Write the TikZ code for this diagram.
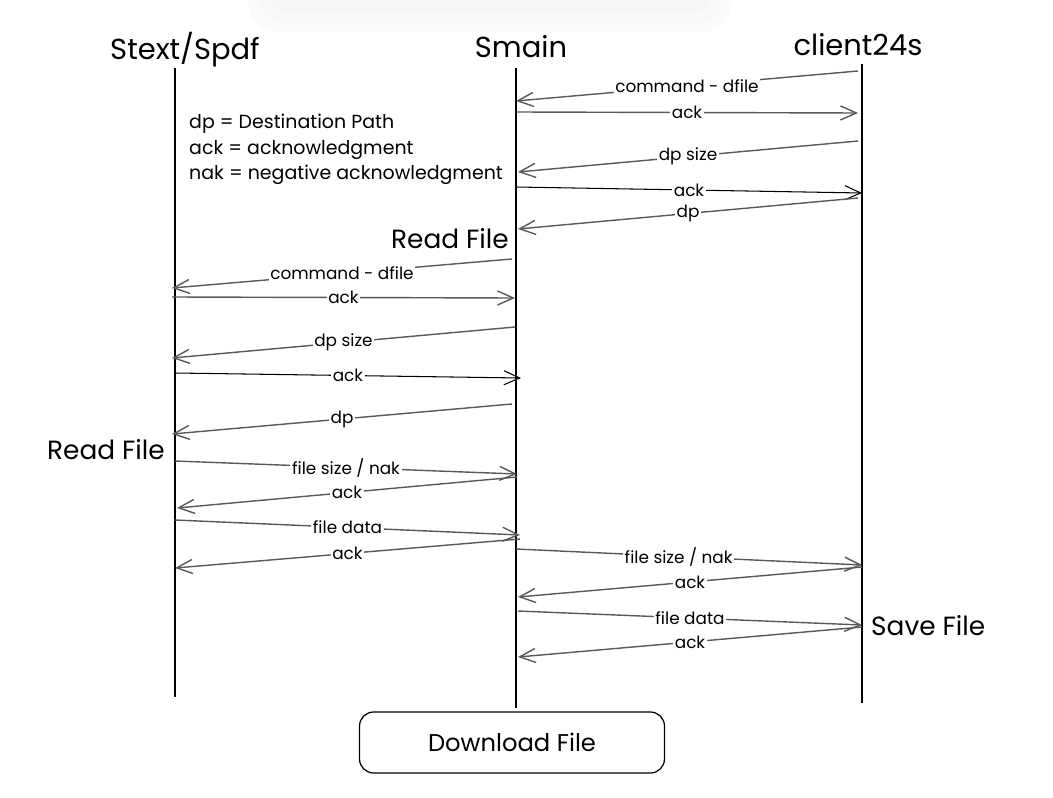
\documentclass[tikz,border=0pt]{standalone}
\usepackage{fontspec}
\setmainfont{Poppins}
\usetikzlibrary{arrows.meta}

\tikzset{
  life/.style={line width=1pt},
  msg/.style={draw=black!65, line width=0.8pt, -{Straight Barb[length=9pt,width=8pt]}},
  msgk/.style={msg, draw=black, line width=0.6pt},
  lbl/.style={fill=white, inner sep=1pt, text=black, font=\fontsize{9.6}{11}\selectfont},
  actor/.style={font=\fontsize{16.5}{18}\selectfont},
  note/.style={align=left, font=\fontsize{10.8}{14.5}\selectfont},
  event/.style={font=\fontsize{15}{16}\selectfont},
}

\begin{document}
\begin{tikzpicture}[x=0.02cm,y=-0.02cm]
\useasboundingbox (0,0) rectangle (1053,797);
%faint shadow at the top
\fill[black!1.5,rounded corners=16] (248,-20) rectangle (732,32);
\fill[black!2.5,rounded corners=14] (258,-20) rectangle (722,22);
\fill[black!3.5,rounded corners=12] (268,-20) rectangle (712,12);

%actors
\node[actor] (stx) at (185,50) {Stext/Spdf};
\node[actor] (smn) at (521,47) {Smain};
\node[actor] (cl) at (858,45) {client24s};

%lifelines
\coordinate (stxtop) at (175,68);  \coordinate (stxbot) at (175,697);
\coordinate (smntop) at (516,68);  \coordinate (smnbot) at (516,708);
\coordinate (cltop) at (862,64);   \coordinate (clbot) at (862,703);
\draw[life] (stxtop) -- (stxbot);
\draw[life] (smntop) -- (smnbot);
\draw[life] (cltop) -- (clbot);

%legend
\node[note, anchor=north west] (notes) at (183,108)
  {dp = Destination Path\\ack = acknowledgment\\nak = negative acknowledgment};

%message end points
\foreach \n/\xa/\ya/\xb/\yb in {
   1/858/71/516/101,  2/516/112/858/113,  3/858/141/518/172,
   4/516/187/862/193, 5/858/198/518/229,  6/512/259/172/288,
   7/172/297/515/298, 8/515/327/172/358,  9/175/373/521/378,
  10/512/404/172/434, 11/175/461/517/474, 12/517/477/177/508,
  13/175/520/520/535, 14/520/539/175/568, 15/516/549/862/565,
  16/862/567/518/597, 17/518/611/862/625, 18/862/627/518/657}
  {\coordinate (a\n) at (\xa,\ya); \coordinate (b\n) at (\xb,\yb);}

%Smain - client24s
\draw[msg] (a1) -- node[lbl,pos=.5]{command - dfile} (b1);
\draw[msg] (a2) -- node[lbl]{ack} (b2);
\draw[msg] (a3) -- node[lbl]{dp size} (b3);
\draw[msgk] (a4) -- node[lbl]{ack} (b4);
\draw[msg] (a5) -- node[lbl]{dp} (b5);
\node[event, anchor=east] (rd1) at (515,239) {Read File};

%Smain - Stext/Spdf
\draw[msg] (a6) -- node[lbl]{command - dfile} (b6);
\draw[msg] (a7) -- node[lbl]{ack} (b7);
\draw[msg] (a8) -- node[lbl]{dp size} (b8);
\draw[msgk] (a9) -- node[lbl]{ack} (b9);
\draw[msg] (a10) -- node[lbl]{dp} (b10);
\node[event, anchor=east] (rd2) at (171,450) {Read File};
\draw[msg] (a11) -- node[lbl]{file size / nak} (b11);
\draw[msg] (a12) -- node[lbl]{ack} (b12);
\draw[msg] (a13) -- node[lbl]{file data} (b13);
\draw[msg] (a14) -- node[lbl]{ack} (b14);

%back to client24s
\draw[msg] (a15) -- node[lbl,pos=.47]{file size / nak} (b15);
\draw[msg] (a16) -- node[lbl]{ack} (b16);
\draw[msg] (a17) -- node[lbl]{file data} (b17);
\node[event, anchor=west] (sv) at (865,626) {Save File};
\draw[msg] (a18) -- node[lbl]{ack} (b18);

%title box
\node[draw, rounded corners=8, line width=0.7pt, minimum width=6.1cm,
      minimum height=1.22cm, font=\fontsize{13.8}{15}\selectfont] (ttl) at (512,742.5) {Download File};
\end{tikzpicture}
\end{document}
